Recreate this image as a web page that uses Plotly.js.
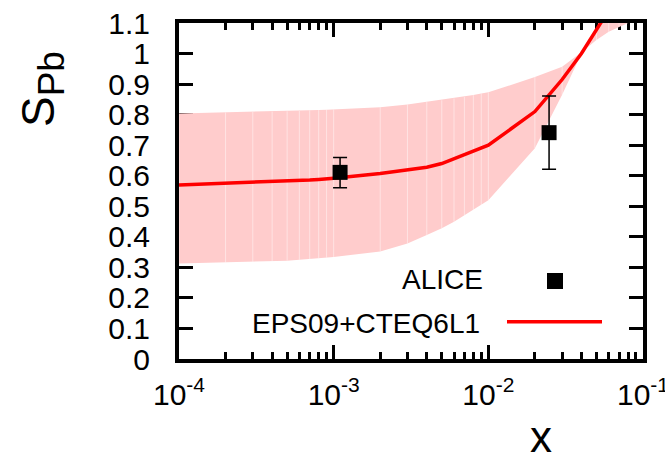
<!DOCTYPE html>
<html>
<head>
<meta charset="utf-8">
<script src="https://cdn.plot.ly/plotly-3.0.1.min.js"></script>
<style>
  html, body { margin: 0; padding: 0; background: #fff; }
  #chart { width: 665px; height: 460px; }
</style>
</head>
<body>
<div id="chart"></div>
<script>
// ---- data ----
const xGrid = [
  1e-4, 2e-4, 3e-4, 4e-4, 5e-4, 6e-4, 7e-4, 8e-4, 9e-4,
  1e-3, 2e-3, 3e-3, 4e-3, 5e-3, 6e-3, 7e-3, 8e-3, 9e-3,
  1e-2, 2e-2, 3e-2, 4e-2, 5e-2, 6e-2, 7e-2, 8e-2, 9e-2,
  1e-1
];
const eps09Central = [
  0.570, 0.575, 0.578, 0.580, 0.582, 0.584, 0.586, 0.588, 0.590,
  0.592, 0.607, 0.619, 0.628, 0.640, 0.655, 0.668, 0.680, 0.690,
  0.700, 0.810, 0.915, 1.000, 1.075, 1.140, 1.190, 1.240, 1.280,
  1.320
];
const eps09Upper = [
  0.804, 0.807, 0.809, 0.810, 0.811, 0.812, 0.814, 0.815, 0.816,
  0.817, 0.824, 0.833, 0.842, 0.847, 0.853, 0.858, 0.864, 0.869,
  0.873, 0.923, 0.957, 1.004, 1.044, 1.071, 1.088, 1.100, 1.110,
  1.120
];
const eps09Lower = [
  0.313, 0.316, 0.318, 0.320, 0.322, 0.325, 0.327, 0.330, 0.332,
  0.334, 0.352, 0.378, 0.406, 0.428, 0.449, 0.470, 0.488, 0.504,
  0.520, 0.690, 0.865, 1.000, 1.075, 1.130, 1.180, 1.220, 1.260,
  1.300
];
const aliceX = [1.1e-3, 2.47e-2];
const aliceY = [0.611, 0.741];
const aliceErrPlus = [0.049, 0.120];
const aliceErrMinus = [0.050, 0.120];

const xTickVals = [1e-4, 1e-3, 1e-2, 1e-1];
const xTickText = ['10<sup>-4</sup>', '10<sup>-3</sup>', '10<sup>-2</sup>', '10<sup>-1</sup>'];
const xMinorTickVals = [
  2e-4, 3e-4, 4e-4, 5e-4, 6e-4, 7e-4, 8e-4, 9e-4,
  2e-3, 3e-3, 4e-3, 5e-3, 6e-3, 7e-3, 8e-3, 9e-3,
  2e-2, 3e-2, 4e-2, 5e-2, 6e-2, 7e-2, 8e-2, 9e-2
];
const yTickVals = [0, 0.1, 0.2, 0.3, 0.4, 0.5, 0.6, 0.7, 0.8, 0.9, 1.0, 1.1];
const yTickText = ['0', '0.1', '0.2', '0.3', '0.4', '0.5', '0.6', '0.7', '0.8', '0.9', '1', '1.1'];

const legendLabels = ['ALICE', 'EPS09+CTEQ6L1'];

// ---- faint seams at the sample points of the band ----
const seamX = [], seamY = [];
xGrid.forEach((x, i) => {
  const lo = Math.min(eps09Lower[i], eps09Upper[i]);
  const hi = Math.max(eps09Lower[i], eps09Upper[i]);
  seamX.push(x, x, null);
  seamY.push(lo, hi, null);
});

const FONT = '"Liberation Sans", Arial, Helvetica, sans-serif';

const traces = [
  { x: xGrid, y: eps09Lower, type: 'scatter', mode: 'lines',
    line: { width: 0, color: 'rgba(0,0,0,0)' }, hoverinfo: 'skip', showlegend: false },
  { x: xGrid, y: eps09Upper, type: 'scatter', mode: 'lines', fill: 'tonexty',
    fillcolor: '#ffcccc', line: { width: 0, color: 'rgba(0,0,0,0)' },
    hoverinfo: 'skip', showlegend: false },
  { x: seamX, y: seamY, type: 'scatter', mode: 'lines',
    line: { width: 1, color: 'rgba(255,255,255,0.45)' }, hoverinfo: 'skip', showlegend: false },
  { x: xGrid, y: eps09Central, type: 'scatter', mode: 'lines', name: legendLabels[1],
    line: { color: '#ff0000', width: 3.5 }, showlegend: false },
  { x: aliceX, y: aliceY, type: 'scatter', mode: 'markers', name: legendLabels[0],
    marker: { symbol: 'square', size: 15, color: '#000' },
    error_y: { type: 'data', symmetric: false, array: aliceErrPlus, arrayminus: aliceErrMinus,
               color: '#000', thickness: 1.5, width: 7 },
    showlegend: false }
];

const plotL = 179, plotR = 643, plotT = 23, plotB = 359;
const W = 665, H = 460;
const px2x = p => (p - plotL) / (plotR - plotL);
const px2y = p => (plotB - p) / (plotB - plotT);

const layout = {
  width: W, height: H,
  margin: { l: plotL, r: W - plotR, t: plotT, b: H - plotB, pad: 0 },
  paper_bgcolor: '#fff', plot_bgcolor: '#fff',
  font: { family: FONT, color: '#000', size: 30 },
  showlegend: false,
  xaxis: {
    type: 'log', range: [-4, -1],
    tickmode: 'array', tickvals: xTickVals, ticktext: xTickText,
    ticks: 'inside', ticklen: 14, tickwidth: 3, tickcolor: '#000',
    minor: { tickmode: 'array', tickvals: xMinorTickVals, ticks: 'inside', ticklen: 7,
             tickwidth: 3, tickcolor: '#000', showgrid: false },
    showline: true, linewidth: 4, linecolor: '#000', mirror: 'allticks',
    showgrid: false, zeroline: false, layer: 'below traces',
    tickfont: { size: 30, family: FONT, color: '#000' },
    ticklabelstandoff: 6, ticklabeloverflow: 'allow'
  },
  yaxis: {
    range: [0, 1.1],
    tickmode: 'array', tickvals: yTickVals, ticktext: yTickText,
    ticks: 'inside', ticklen: 14, tickwidth: 3, tickcolor: '#000',
    showline: true, linewidth: 4, linecolor: '#000', mirror: 'allticks',
    showgrid: false, zeroline: false, layer: 'below traces',
    tickfont: { size: 30, family: FONT, color: '#000' },
    ticklabelstandoff: 19, ticklabeloverflow: 'allow'
  },
  annotations: [
    { xref: 'paper', yref: 'paper', x: px2x(42.5), y: px2y(89.5), textangle: -90,
      xanchor: 'center', yanchor: 'middle', showarrow: false,
      text: 'S<sub><span style="font-size:37px">Pb</span></sub>',
      font: { size: 46, family: FONT, color: '#000' } },
    { xref: 'paper', yref: 'paper', x: px2x(541), y: px2y(436),
      xanchor: 'center', yanchor: 'middle', showarrow: false,
      text: 'x', font: { size: 44, family: FONT, color: '#000' } },
    { xref: 'paper', yref: 'paper', x: px2x(485), y: px2y(279.5),
      xanchor: 'right', yanchor: 'middle', showarrow: false,
      text: legendLabels[0], font: { size: 28, family: FONT, color: '#000' } },
    { xref: 'paper', yref: 'paper', x: px2x(482), y: px2y(323),
      xanchor: 'right', yanchor: 'middle', showarrow: false,
      text: legendLabels[1], font: { size: 28, family: FONT, color: '#000' } }
  ],
  shapes: [
    { type: 'rect', xref: 'paper', yref: 'paper',
      x0: px2x(547), x1: px2x(563), y0: px2y(289), y1: px2y(273),
      fillcolor: '#000', line: { width: 0 } },
    { type: 'line', xref: 'paper', yref: 'paper',
      x0: px2x(507), x1: px2x(602), y0: px2y(321.7), y1: px2y(321.7),
      line: { color: '#ff0000', width: 3.5 } }
  ]
};

Plotly.newPlot('chart', traces, layout, { staticPlot: true, displayModeBar: false });
</script>
</body>
</html>
